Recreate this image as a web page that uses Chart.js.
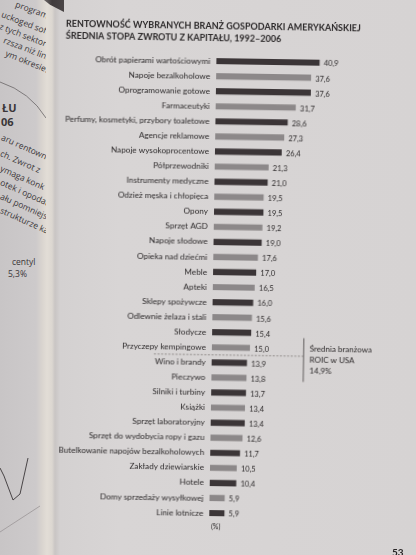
<!DOCTYPE html>
<html>
<head>
<meta charset="utf-8">
<script src="https://cdn.jsdelivr.net/npm/chart.js@4.4.1/dist/chart.umd.min.js"></script>
<style>
  html, body { margin: 0; padding: 0; }
  body {
    width: 416px; height: 555px; overflow: hidden; position: relative;
    background: linear-gradient(to right, #c8c5c6 0px, #cdcacb 36px, #d9d4cf 42px, #e2ddd6 47px, #dcd7d1 52px, #c9c5c4 55px, #d4d1d1 60px, #d8d5d5 120px, #d6d3d3 100%);
    font-family: "Open Sans", sans-serif;
  }
  #leftpage { position: absolute; left: 0; top: 0; width: 46px; height: 555px; overflow: hidden; }
  #leftpage span { position: absolute; white-space: nowrap; font-size: 8.5px; color: #3a3638; transform-origin: 0 50%; }
  #leftpage b { position: absolute; font-size: 11px; color: #3a3638; font-weight: 700; }
  #corner { position: absolute; left: 44px; top: 0; width: 20px; height: 12px; background: linear-gradient(to right, #6d6868, #403b3c 40%, #4a4546); clip-path: polygon(0 0, 100% 0, 100% 100%, 30% 40%); }
  #wrap { position: absolute; left: 0; top: 0; width: 416px; height: 555px; transform: rotate(0.9deg); transform-origin: 208px 277px; }
  #pageno { position: absolute; left: 392px; top: 546px; font: 700 10px Lato, sans-serif; color: #2a2627; }
</style>
</head>
<body>
<div id="leftpage">
  <span style="left:16px;top:-2px;transform:rotate(20deg)">programo</span>
  <span style="left:2px;top:8px;transform:rotate(21deg)">uckoged softw</span>
  <span style="left:0px;top:20px;transform:rotate(21deg)">z tych sektor</span>
  <span style="left:4px;top:34px;transform:rotate(21deg)">rzsza niż lini</span>
  <span style="left:6px;top:47px;transform:rotate(22deg)">ym okresie.</span>
  <b style="left:2px;top:100px">ŁU</b>
  <b style="left:1px;top:114px">06</b>
  <span style="left:2px;top:131px;transform:rotate(24deg)">aru rentowno</span>
  <span style="left:1px;top:147px;transform:rotate(24deg)">ch. Zwrot z</span>
  <span style="left:1px;top:162px;transform:rotate(24deg)">ymaga konk</span>
  <span style="left:1px;top:176px;transform:rotate(24deg)">otek i opodat</span>
  <span style="left:1px;top:190px;transform:rotate(24deg)">ału pomniejsz</span>
  <span style="left:1px;top:204px;transform:rotate(24deg)">strukturze kap</span>
  <span style="left:12px;top:256px;">centyl</span>
  <span style="left:8px;top:268px;">5,3%</span>
  <svg width="46" height="555" style="position:absolute;left:0;top:0">
    <path d="M0 82 Q 30 92 46 118" fill="none" stroke="#6a6667" stroke-width="0.8"/>
    <polyline points="0,468 4,476 13,500 20,494 28,458" fill="none" stroke="#3a3638" stroke-width="0.9"/>
    <line x1="0" y1="532" x2="40" y2="506" stroke="#9a9697" stroke-width="0.8"/>
  </svg>
</div>
<div id="corner"></div>
<div id="wrap">
  <canvas id="c" width="416" height="555"></canvas>
</div>
<div id="pageno">53</div>
<script>
const titleLines = [
  "RENTOWNOŚĆ WYBRANYCH BRANŻ GOSPODARKI AMERYKAŃSKIEJ",
  "ŚREDNIA STOPA ZWROTU Z KAPITAŁU, 1992–2006"
];
const categories = [
  "Obrót papierami wartościowymi",
  "Napoje bezalkoholowe",
  "Oprogramowanie gotowe",
  "Farmaceutyki",
  "Perfumy, kosmetyki, przybory toaletowe",
  "Agencje reklamowe",
  "Napoje wysokoprocentowe",
  "Półprzewodniki",
  "Instrumenty medyczne",
  "Odzież męska i chłopięca",
  "Opony",
  "Sprzęt AGD",
  "Napoje słodowe",
  "Opieka nad dziećmi",
  "Meble",
  "Apteki",
  "Sklepy spożywcze",
  "Odlewnie żelaza i stali",
  "Słodycze",
  "Przyczepy kempingowe",
  "Wino i brandy",
  "Pieczywo",
  "Silniki i turbiny",
  "Książki",
  "Sprzęt laboratoryjny",
  "Sprzęt do wydobycia ropy i gazu",
  "Butelkowanie napojów bezalkoholowych",
  "Zakłady dziewiarskie",
  "Hotele",
  "Domy sprzedaży wysyłkowej",
  "Linie lotnicze"
];
const roicValues = [
  40.9, 37.6, 37.6, 31.7, 28.6, 27.3, 26.4, 21.3, 21.0, 19.5,
  19.5, 19.2, 19.0, 17.6, 17.0, 16.5, 16.0, 15.6, 15.4, 15.0,
  13.9, 13.8, 13.7, 13.4, 13.4, 12.6, 11.7, 10.5, 10.4, 5.9, 5.9
];
const averageLabel = ["Średnia branżowa", "ROIC w USA", "14,9%"];
const unitLabel = "(%)";

const DARK = "#3b3537";
const LIGHT = "#8c8889";
const TEXT = "#2c292a";
const fmt = v => v.toFixed(1).replace(".", ",");

const extras = {
  id: "extras",
  afterDatasetsDraw(chart) {
    const ctx = chart.ctx;
    const meta = chart.getDatasetMeta(0);
    const xs = chart.scales.x, ys = chart.scales.y;
    ctx.save();
    ctx.fillStyle = TEXT;
    ctx.font = "7.5px Lato, sans-serif";
    ctx.textAlign = "left";
    ctx.textBaseline = "middle";
    meta.data.forEach((bar, i) => {
      ctx.fillText(fmt(roicValues[i]), bar.x + 4.5, bar.y + 1);
    });
    // average divider between rows 19 and 20
    const yDiv = ys.getPixelForValue(19.5);
    const xEnd = xs.getPixelForValue(36.5);
    const xStart = xs.getPixelForValue(-23);
    ctx.strokeStyle = "#77716f";
    ctx.lineWidth = 0.7;
    ctx.setLineDash([2, 1.6]);
    ctx.beginPath();
    ctx.moveTo(xStart, yDiv);
    ctx.lineTo(xEnd, yDiv);
    ctx.stroke();
    ctx.setLineDash([]);
    ctx.strokeStyle = "#555051";
    ctx.lineWidth = 0.9;
    ctx.beginPath();
    ctx.moveTo(xEnd, ys.getPixelForValue(18.3));
    ctx.lineTo(xEnd, ys.getPixelForValue(21.2));
    ctx.stroke();
    ctx.font = "8px Lato, sans-serif";
    ctx.fillStyle = TEXT;
    averageLabel.forEach((t, k) => {
      ctx.fillText(t, xEnd + 6, ys.getPixelForValue(19.0) + k * 11.2);
    });
    ctx.font = "7px Lato, sans-serif";
    ctx.fillText(unitLabel, xs.getPixelForValue(0) + 2, chart.chartArea.bottom + 6);
    ctx.restore();
  }
};

new Chart(document.getElementById("c"), {
  type: "bar",
  data: {
    labels: categories,
    datasets: [{
      data: roicValues,
      backgroundColor: roicValues.map((v, i) => i % 2 === 0 ? DARK : LIGHT),
      barThickness: 5.5,
      borderWidth: 0
    }]
  },
  options: {
    indexAxis: "y",
    responsive: false,
    animation: false,
    layout: { padding: { left: 62, right: 52, top: 0, bottom: 34.5 } },
    plugins: {
      legend: { display: false },
      tooltip: { enabled: false },
      title: {
        display: true,
        align: "start",
        text: titleLines,
        color: TEXT,
        font: { family: "Lato, sans-serif", size: 9, weight: "bold", lineHeight: 1.35 },
        padding: { top: 20, bottom: 9.2 }
      }
    },
    scales: {
      x: { display: false, min: 0, max: 60 },
      y: {
        afterFit(scale) { scale.width = 151; },
        grid: { display: false, drawTicks: false, tickLength: 0 },
        border: { display: false },
        ticks: {
          autoSkip: false,
          color: TEXT,
          padding: 6,
          font: { family: "Lato, sans-serif", size: 8.2 }
        }
      }
    }
  },
  plugins: [extras]
});
</script>
</body>
</html>
